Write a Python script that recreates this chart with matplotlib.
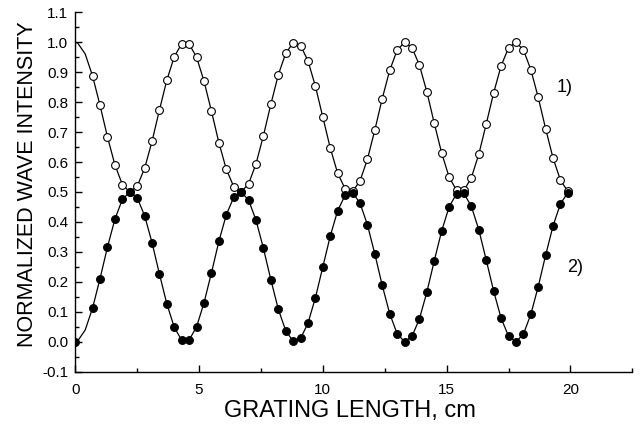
import matplotlib
matplotlib.use('Agg')
import matplotlib.pyplot as plt
from matplotlib.ticker import MultipleLocator, FormatStrFormatter

plt.rcParams['font.family'] = ['Liberation Sans', 'DejaVu Sans']

# grating length, cm (first two points only carry the line)
length_cm = [0.0, 0.1, 0.4,
             0.7, 1.0, 1.3, 1.6, 1.9, 2.2, 2.5, 2.8, 3.1, 3.4, 3.7, 4.0,
             4.3, 4.6, 4.9, 5.2, 5.5, 5.8, 6.1, 6.4, 6.7, 7.0, 7.3, 7.6,
             7.9, 8.2, 8.5, 8.8, 9.1, 9.4, 9.7, 10.0, 10.3, 10.6, 10.9,
             11.2, 11.5, 11.8, 12.1, 12.4, 12.7, 13.0, 13.3, 13.6, 13.9,
             14.2, 14.5, 14.8, 15.1, 15.4, 15.7, 16.0, 16.3, 16.6, 16.9,
             17.2, 17.5, 17.8, 18.1, 18.4, 18.7, 19.0, 19.3, 19.6, 19.9]

# curve 1) - open circles
wave_1 = [1.000, 0.997, 0.961,
          0.887, 0.789, 0.684, 0.591, 0.525, 0.500, 0.519, 0.579, 0.669,
          0.774, 0.874, 0.952, 0.995, 0.994, 0.950, 0.870, 0.770, 0.665,
          0.576, 0.518, 0.500, 0.527, 0.594, 0.688, 0.793, 0.891, 0.963,
          0.998, 0.989, 0.938, 0.853, 0.750, 0.647, 0.562, 0.511, 0.502,
          0.537, 0.609, 0.707, 0.812, 0.906, 0.973, 1.000, 0.982, 0.924,
          0.835, 0.730, 0.630, 0.550, 0.506, 0.505, 0.548, 0.626, 0.727,
          0.831, 0.921, 0.981, 1.000, 0.975, 0.909, 0.816, 0.711, 0.613,
          0.539, 0.502]

# curve 2) - filled circles
wave_2 = [0.000, 0.003, 0.039,
          0.113, 0.211, 0.316, 0.409, 0.475, 0.500, 0.481, 0.421, 0.331,
          0.226, 0.126, 0.048, 0.005, 0.006, 0.050, 0.130, 0.230, 0.335,
          0.424, 0.482, 0.500, 0.473, 0.406, 0.312, 0.207, 0.109, 0.037,
          0.002, 0.011, 0.062, 0.147, 0.250, 0.353, 0.438, 0.489, 0.498,
          0.463, 0.391, 0.293, 0.188, 0.094, 0.027, 0.000, 0.018, 0.076,
          0.165, 0.270, 0.370, 0.450, 0.494, 0.495, 0.452, 0.374, 0.273,
          0.169, 0.079, 0.019, 0.000, 0.025, 0.091, 0.184, 0.289, 0.387,
          0.461, 0.498]

marks_1 = list(range(3, len(length_cm)))
marks_2 = [0] + list(range(3, len(length_cm)))

fig = plt.figure(figsize=(6.44, 4.30), dpi=100, facecolor='white')
ax = fig.add_axes([0.1169, 0.1356, 0.8649, 0.8358])

ax.plot(length_cm, wave_1, color='black', linewidth=0.9, zorder=2)
ax.plot(length_cm, wave_2, color='black', linewidth=0.9, zorder=2)
ax.plot([length_cm[i] for i in marks_1], [wave_1[i] for i in marks_1],
        linestyle='none', marker='o', markersize=5.6, markerfacecolor='white',
        markeredgecolor='black', markeredgewidth=0.8, zorder=3)
ax.plot([length_cm[i] for i in marks_2], [wave_2[i] for i in marks_2],
        linestyle='none', marker='o', markersize=5.6, markerfacecolor='black',
        markeredgecolor='black', markeredgewidth=0.8, zorder=4)

ax.set_xlim(0, 22.5)
ax.set_ylim(-0.1, 1.1)
ax.xaxis.set_major_locator(MultipleLocator(5))
ax.xaxis.set_minor_locator(MultipleLocator(2.5))
ax.yaxis.set_major_locator(MultipleLocator(0.1))
ax.yaxis.set_minor_locator(MultipleLocator(0.05))
ax.yaxis.set_major_formatter(FormatStrFormatter('%.1f'))

ax.spines['top'].set_visible(False)
ax.spines['right'].set_visible(False)
for s in ('left', 'bottom'):
    ax.spines[s].set_linewidth(1.0)
ax.tick_params(which='both', direction='in', width=1.0, labelsize=11)
ax.tick_params(which='major', length=5)
ax.tick_params(which='minor', length=3)
ax.tick_params(axis='x', pad=8)
ax.tick_params(axis='y', pad=5)

ax.set_xlabel('GRATING LENGTH, cm', fontsize=17)
ax.set_ylabel('NORMALIZED WAVE INTENSITY', fontsize=15.5)
ax.xaxis.set_label_coords(0.493, -0.127)
ax.yaxis.set_label_coords(-0.085, 0.522)
ax.xaxis.label.set_va('baseline')
ax.yaxis.label.set_va('center')

ax.text(19.77, 0.849, '1)', fontsize=13, ha='center', va='center')
ax.text(20.21, 0.249, '2)', fontsize=13, ha='center', va='center')

fig.savefig('out.png', dpi=100, facecolor='white')
